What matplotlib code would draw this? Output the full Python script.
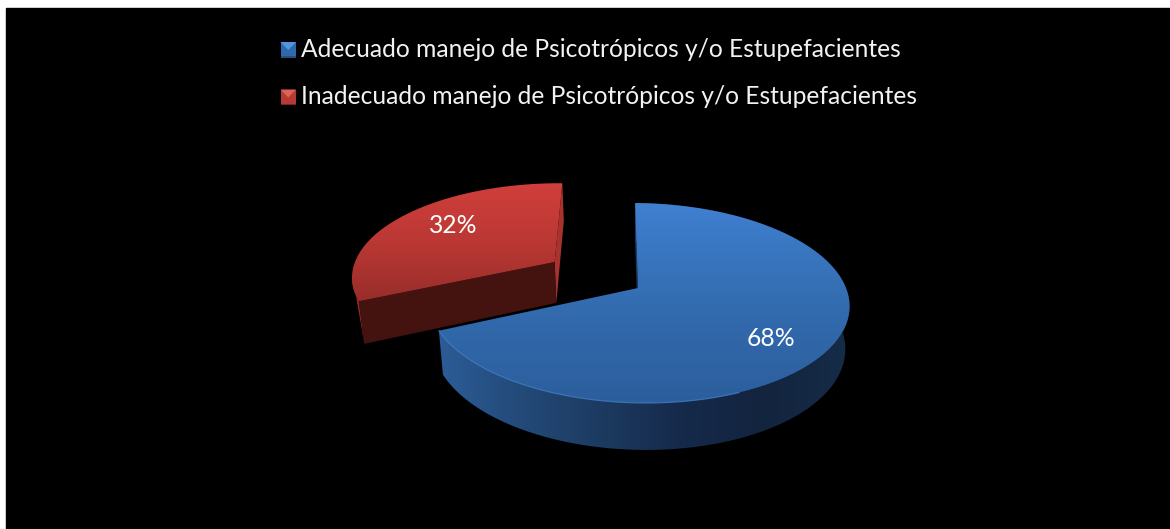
import numpy as np
import matplotlib.pyplot as plt
from matplotlib.colors import LinearSegmentedColormap
from matplotlib.patches import Polygon, Rectangle

plt.rcParams['font.family'] = ['Lato', 'DejaVu Sans']

# data
categories = ['Adecuado manejo de Psicotrópicos y/o Estupefacientes',
              'Inadecuado manejo de Psicotrópicos y/o Estupefacientes']
values = [68, 32]
pct_labels = ['68%', '32%']

# pie projection, pixel units
CX, CY = 638, 288
RX, RY = 208, 97.75
K = 0.15
SHEAR = 7
START = 1
RED_SHIFT = (-0.408, 0.277)


def project(u, v):
    d = 1 + K * v
    return CX + (RX * u - SHEAR * v) / d, CY - RY * v / d


def drop(x, y):
    # same points on the bottom of the pie
    return CX + 0.98 * (x - CX), CY + 1.043 * (y - CY) + 42


def arc(a0, a1, shift=(0, 0)):
    t = np.radians(np.linspace(a0, a1, 200))
    return project(np.sin(t) + shift[0], np.cos(t) + shift[1])


def gradient_poly(ax, x, y, colors, z, horizontal=False):
    cmap = LinearSegmentedColormap.from_list('g', colors)
    grad = np.linspace(0, 1, 256)
    grad = grad[None, :] if horizontal else grad[:, None]
    im = ax.imshow(grad, cmap=cmap, extent=(min(x), max(x), max(y), min(y)), aspect='auto',
                   interpolation='bilinear', zorder=z)
    im.set_clip_path(Polygon(np.column_stack([x, y]), closed=True, transform=ax.transData))


fig = plt.figure(figsize=(11.7, 5.29), dpi=100, facecolor='white')
ax = fig.add_axes([0, 0, 1, 1])
ax.axis('off')
ax.add_patch(Rectangle((6, 8), 1164, 521, color='black', zorder=1))

angles = np.array(values) / sum(values) * 360
blue_end = START + angles[0]
red_end = blue_end + angles[1]

# blue slice
bx, by = arc(START, blue_end)
bbx, bby = drop(bx, by)
wall = ['#2c5c97', '#234a78', '#1c3a60', '#15294a', '#13243e', '#162c48']
gradient_poly(ax, np.r_[bx, bbx[::-1]], np.r_[by, bby[::-1]], wall, 2, horizontal=True)
apx, apy = project(0, 0)
lip_x = [bx[0], apx, drop(apx, apy)[0], bbx[0]]
lip_y = [by[0], apy, drop(apx, apy)[1], bby[0]]
ax.add_patch(Polygon(np.column_stack([lip_x, lip_y]), color='#1b3a60', lw=0, zorder=3))
gradient_poly(ax, np.r_[apx, bx], np.r_[apy, by], ['#3f80d0', '#336cb0', '#2c5e9c'], 4)
rim = (bx < 740) & (by > 330)
ax.plot(bx[rim], by[rim], color='#4a8cdc', lw=0.8, alpha=0.7, zorder=5)

# red slice, pulled out
rx, ry = arc(blue_end, red_end, RED_SHIFT)
rbx, rby = drop(rx, ry)
gradient_poly(ax, np.r_[rx[:30], rbx[0]], np.r_[ry[:30], rby[0]], ['#a5302c', '#8a2825'], 6, horizontal=True)
rax, ray = project(*RED_SHIFT)
rbax, rbay = drop(rax, ray)
ax.add_patch(Polygon([(rx[-1], ry[-1]), (rax, ray), (rbax, rbay), (rbx[-1], rby[-1])],
                     color='#a8322e', lw=0, zorder=7))
ax.add_patch(Polygon([(rx[0], ry[0]), (rax, ray), (rbax, rbay), (rbx[0], rby[0])],
                     color='#441310', lw=0, zorder=8))
gradient_poly(ax, np.r_[rax, rx], np.r_[ray, ry], ['#d03f3b', '#bb3834', '#982d2a'], 9)

# percent labels
ax.text(771, 338.5, pct_labels[0], color='white', fontsize=17.7, ha='center', va='center', zorder=50)
ax.text(453, 225.5, pct_labels[1], color='white', fontsize=17.7, ha='center', va='center', zorder=50)

# legend
for name, y_txt, top, body, low in [(categories[0], 49.5, '#5394e0', '#2f69ad', '#23507f'),
                                    (categories[1], 97, '#e0605a', '#b53a36', '#7d2321')]:
    x0, x1, y0, y1 = 280.5, 296, y_txt - 7.5, y_txt + 8
    ax.add_patch(Rectangle((x0, y0), x1 - x0, y1 - y0, color=body, lw=0, zorder=40))
    ax.add_patch(Polygon([(x0, y0), (x1, y0), ((x0 + x1) / 2, y0 + 8)], color=top, lw=0, zorder=41))
    ax.add_patch(Rectangle((x0, y1 - 1.5), x1 - x0, 1.5, color=low, lw=0, zorder=41))
    ax.text(301, y_txt, name, color='#f2f2f2', fontsize=17.7, ha='left', va='center', zorder=50)

ax.set_xlim(0, 1170)
ax.set_ylim(529, 0)
fig.savefig('out.png', dpi=100, facecolor='white')
